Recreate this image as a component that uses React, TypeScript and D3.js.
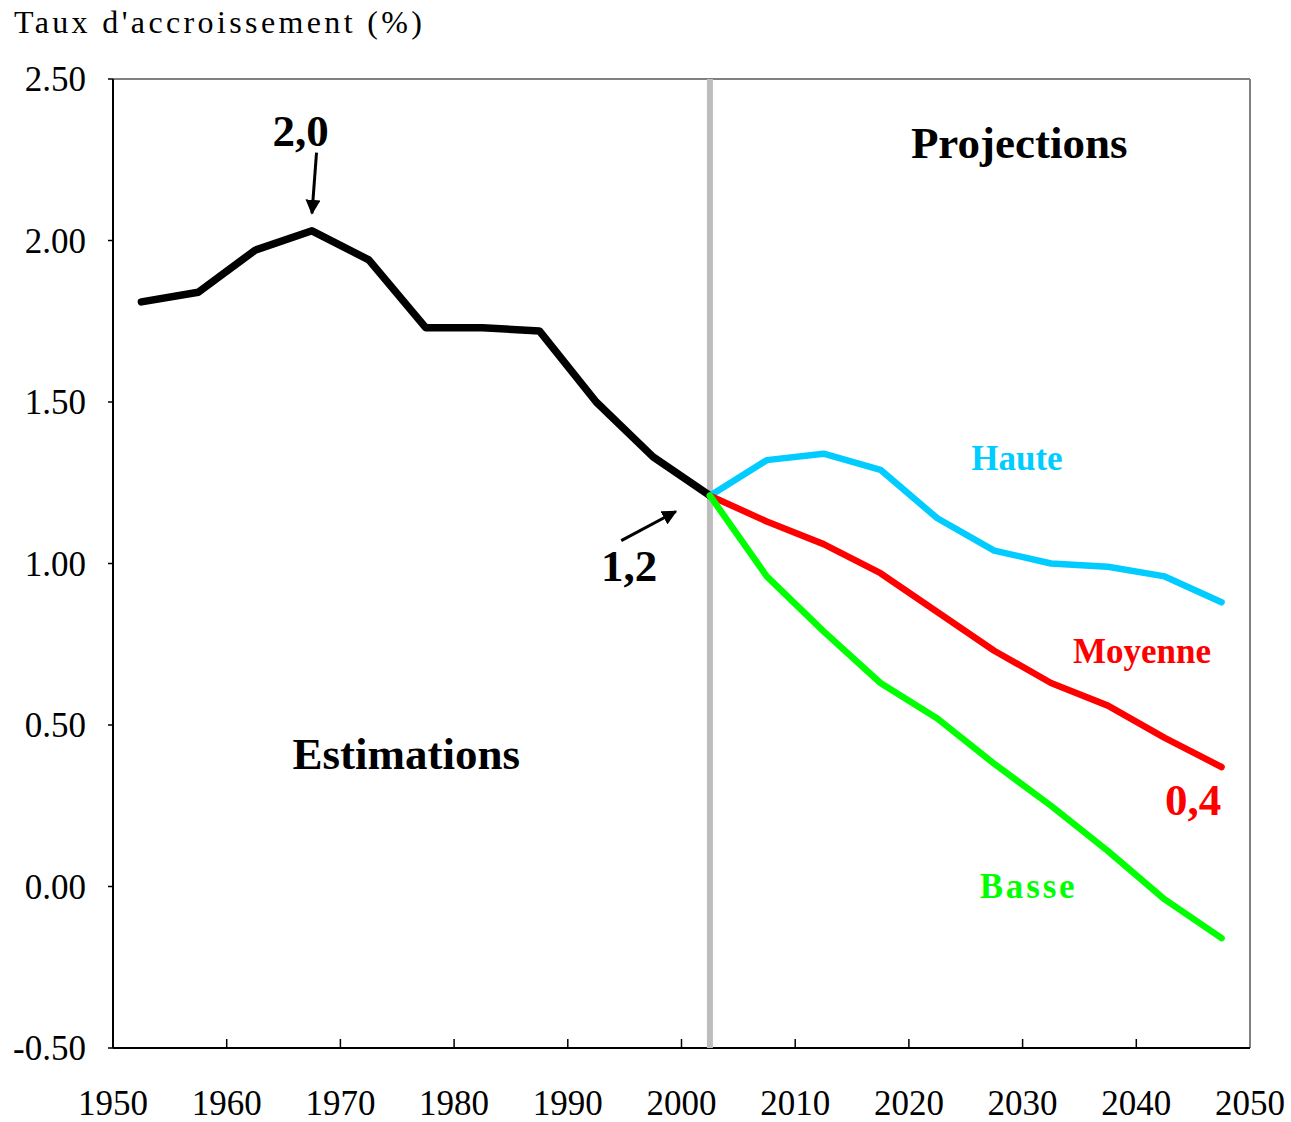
import React from "react";
import * as d3 from "d3";

// growth rate (%) by mid-period year
const estYears = [1952.5, 1957.5, 1962.5, 1967.5, 1972.5, 1977.5, 1982.5, 1987.5, 1992.5, 1997.5, 2002.5];
const estimations = [1.81, 1.84, 1.97, 2.03, 1.94, 1.73, 1.73, 1.72, 1.5, 1.33, 1.21];

const projYears = [2002.5, 2007.5, 2012.5, 2017.5, 2022.5, 2027.5, 2032.5, 2037.5, 2042.5, 2047.5];
const haute = [1.21, 1.32, 1.34, 1.29, 1.14, 1.04, 1.0, 0.99, 0.96, 0.88];
const moyenne = [1.21, 1.13, 1.06, 0.97, 0.85, 0.73, 0.63, 0.56, 0.46, 0.37];
const basse = [1.21, 0.96, 0.79, 0.63, 0.52, 0.38, 0.25, 0.11, -0.04, -0.16];

const xTicks = [1950, 1960, 1970, 1980, 1990, 2000, 2010, 2020, 2030, 2040, 2050];
const yTicks = [-0.5, 0, 0.5, 1, 1.5, 2, 2.5];

const width = 1291;
const height = 1122;
const left = 113, right = 1250, top = 79, bottom = 1048;

export default function App() {
  const x = d3.scaleLinear().domain([1950, 2050]).range([left, right]);
  const y = d3.scaleLinear().domain([-0.5, 2.5]).range([bottom, top]);

  const line = (years: number[]) =>
    d3.line<number>().x((d, i) => x(years[i])).y((d) => y(d));

  const series = [
    { values: haute, color: "#00ccff" },
    { values: moyenne, color: "#ff0000" },
    { values: basse, color: "#00ff00" },
  ];

  const font = "'Liberation Serif', 'Times New Roman', serif";

  return (
    <svg
      width={width}
      height={height}
      style={{ position: "absolute", left: 0, top: 0, background: "#fff" }}
      fontFamily={font}
    >
      <defs>
        <marker id="arrow" viewBox="0 0 10 10" refX="9" refY="5" markerWidth="5" markerHeight="5" orient="auto">
          <path d="M0,0 L10,5 L0,10 z" fill="#000" />
        </marker>
      </defs>

      <text x={14} y={33} fontSize={32} fill="#000" textLength={408} lengthAdjust="spacing">
        Taux d'accroissement  (%)
      </text>

      {/* frame */}
      <line x1={left} x2={right} y1={top} y2={top} stroke="#808080" strokeWidth={2} />
      <line x1={right} x2={right} y1={top} y2={bottom} stroke="#808080" strokeWidth={2} />
      <line x1={left} x2={left} y1={top} y2={bottom} stroke="#000" strokeWidth={2} />
      <line x1={left} x2={right} y1={bottom} y2={bottom} stroke="#000" strokeWidth={2} />

      {/* y axis */}
      {yTicks.map((t) => (
        <g key={t}>
          <line x1={left - 5} x2={left} y1={y(t)} y2={y(t)} stroke="#000" strokeWidth={1.5} />
          <text x={86} y={y(t) + 12} fontSize={35} textAnchor="end" fill="#000">
            {t.toFixed(2)}
          </text>
        </g>
      ))}

      {/* x axis */}
      {xTicks.map((t) => (
        <g key={t}>
          {t > 1950 && t < 2050 && (
            <line x1={x(t)} x2={x(t)} y1={bottom} y2={bottom - 9} stroke="#000" strokeWidth={1.5} />
          )}
          <text x={x(t)} y={1115} fontSize={35} textAnchor="middle" fill="#000">
            {t}
          </text>
        </g>
      ))}

      {/* separator */}
      <line x1={x(2002.5)} x2={x(2002.5)} y1={top} y2={bottom} stroke="#bdbdbd" strokeWidth={6} />

      {/* lines */}
      <path d={line(estYears)(estimations) || ""} fill="none" stroke="#000" strokeWidth={7.5} strokeLinejoin="round" strokeLinecap="round" />
      {series.map((s) => (
        <path
          key={s.color}
          d={line(projYears)(s.values) || ""}
          fill="none"
          stroke={s.color}
          strokeWidth={6.5}
          strokeLinejoin="round"
          strokeLinecap="round"
        />
      ))}

      {/* annotations */}
      <text x={x(1966.5)} y={y(2.294)} fontSize={45} fontWeight="bold" textAnchor="middle" fill="#000">2,0</text>
      <line x1={x(1967.9)} y1={y(2.272)} x2={x(1967.5)} y2={y(2.084)} stroke="#000" strokeWidth={3} markerEnd="url(#arrow)" />
      <text x={x(1995.4)} y={y(0.947)} fontSize={45} fontWeight="bold" textAnchor="middle" fill="#000">1,2</text>
      <line x1={x(1994.7)} y1={y(1.071)} x2={x(1999.5)} y2={y(1.161)} stroke="#000" strokeWidth={3} markerEnd="url(#arrow)" />

      <text x={x(2029.7)} y={y(2.254)} fontSize={45} fontWeight="bold" textAnchor="middle" fill="#000">Projections</text>
      <text x={x(1975.8)} y={y(0.365)} fontSize={45} fontWeight="bold" textAnchor="middle" fill="#000">Estimations</text>

      <text x={x(2029.5)} y={y(1.288)} fontSize={35} fontWeight="bold" textAnchor="middle" fill="#00ccff">Haute</text>
      <text x={x(2040.5)} y={y(0.693)} fontSize={35} fontWeight="bold" textAnchor="middle" fill="#ff0000">Moyenne</text>
      <text x={x(2045)} y={y(0.22)} fontSize={45} fontWeight="bold" textAnchor="middle" fill="#ff0000">0,4</text>
      <text x={x(2030.4)} y={y(-0.037)} fontSize={35} fontWeight="bold" textAnchor="middle" fill="#00ff00" textLength={95} lengthAdjust="spacing">Basse</text>
    </svg>
  );
}
